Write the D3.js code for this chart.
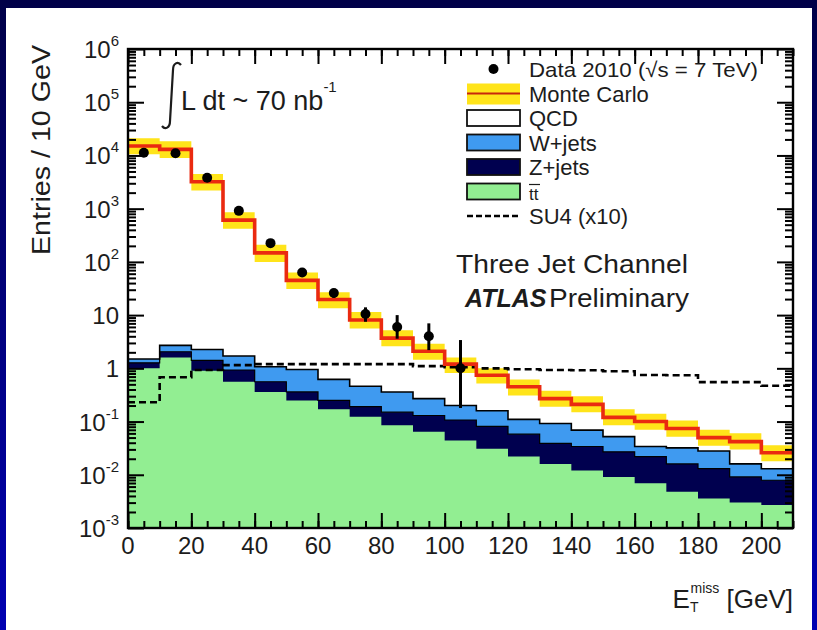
<!DOCTYPE html>
<html>
<head>
<meta charset="utf-8">
<script src="https://cdn.jsdelivr.net/npm/d3@7"></script>
<style>
html, body { margin: 0; padding: 0; }
body { width: 817px; height: 630px; overflow: hidden; background: linear-gradient(to bottom, #000048, #0000b2); }
svg { display: block; }
text { font-family: "Liberation Sans", Arial, Helvetica, sans-serif; fill: #1c1c1c; }
</style>
</head>
<body>
<script>
// bins of 10 GeV, lower edges
var binLow = [0, 10, 20, 30, 40, 50, 60, 70, 80, 90, 100, 110, 120, 130, 140, 150, 160, 170, 180, 190, 200];
var binWidth = 10;

// stacked tops (entries / 10 GeV)
var mcTotal = [15000, 13000, 3200, 610, 148, 45, 19.6, 8.1, 3.7, 2.1, 1.2, 0.74, 0.45, 0.27, 0.21, 0.12, 0.10, 0.074, 0.050, 0.042, 0.026];
var mcHigh  = [21000, 18500, 4500, 860, 210, 63, 27, 11.5, 5.2, 2.9, 1.6, 1.0, 0.62, 0.38, 0.30, 0.17, 0.14, 0.105, 0.070, 0.060, 0.036];
var mcLow   = [10500, 9000, 2200, 420, 100, 31, 13.5, 5.6, 2.6, 1.45, 0.82, 0.52, 0.31, 0.19, 0.15, 0.085, 0.07, 0.052, 0.035, 0.030, 0.018];
var wTop    = [1.5, 2.7, 2.26, 1.7, 1.07, 0.95, 0.62, 0.46, 0.36, 0.27, 0.20, 0.16, 0.11, 0.092, 0.069, 0.052, 0.034, 0.032, 0.028, 0.016, 0.013];
var zTop    = [1.27, 2.05, 1.41, 0.93, 0.56, 0.36, 0.25, 0.19, 0.15, 0.13, 0.107, 0.081, 0.058, 0.039, 0.034, 0.027, 0.022, 0.016, 0.013, 0.0091, 0.0079];
var ttTop   = [1.0, 1.6, 0.9, 0.56, 0.36, 0.25, 0.17, 0.123, 0.085, 0.064, 0.044, 0.031, 0.022, 0.016, 0.012, 0.0091, 0.0069, 0.0048, 0.0036, 0.0030, 0.0027];
var su4     = [0.23, 0.68, 0.93, 1.15, 1.2, 1.2, 1.2, 1.2, 1.2, 1.1, 1.05, 1.0, 0.96, 0.93, 0.92, 0.88, 0.75, 0.74, 0.55, 0.55, 0.47];

// data points
var dataCenter = [5, 15, 25, 35, 45, 55, 65, 75, 85, 95, 105];
var dataValue  = [11200, 11000, 3800, 910, 225, 63, 26, 10.5, 6.0, 4.0, 1.0];
var dataLow    = [10900, 10700, 3740, 880, 210, 55, 21, 7.5, 3.6, 2.2, 0.18];
var dataHigh   = [11500, 11300, 3860, 940, 240, 71, 31, 14, 10, 7.0, 3.4];

var xTicks = [0, 20, 40, 60, 80, 100, 120, 140, 160, 180, 200];
var yDecades = [-3, -2, -1, 0, 1, 2, 3, 4, 5, 6];

var legendLabels = ["Data 2010", "Monte Carlo", "QCD", "W+jets", "Z+jets", "tt", "SU4 (x10)"];

var W = 817, H = 630;
var pLeft = 128, pRight = 793, pTop = 49, pBottom = 528;

var svg = d3.select("body").append("svg").attr("width", W).attr("height", H);

// white panel inside the blue frame
svg.append("rect").attr("x", 6).attr("y", 8).attr("width", 806).attr("height", 622).attr("fill", "#ffffff");

var x = d3.scaleLinear().domain([0, 210]).range([pLeft, pRight]);
var y = d3.scaleLog().domain([1e-3, 1e6]).range([pBottom, pTop]);

function steps(vals) {
    var pts = [];
    vals.forEach(function (v, i) {
        pts.push([binLow[i], v]);
        pts.push([binLow[i] + binWidth, v]);
    });
    return pts;
}

var plot = svg.append("g");
plot.append("clipPath").attr("id", "clip").append("rect")
    .attr("x", pLeft).attr("y", pTop).attr("width", pRight - pLeft).attr("height", pBottom - pTop);
var inner = plot.append("g").attr("clip-path", "url(#clip)");

var fillArea = d3.area()
    .x(function (d) { return x(d[0]); })
    .y0(y(1e-3))
    .y1(function (d) { return y(d[1]); });
var stepLine = d3.line()
    .x(function (d) { return x(d[0]); })
    .y(function (d) { return y(d[1]); });

// yellow MC uncertainty band
var bandPts = [];
mcHigh.forEach(function (v, i) {
    bandPts.push([binLow[i], v, mcLow[i]]);
    bandPts.push([binLow[i] + binWidth, v, mcLow[i]]);
});
inner.append("path")
    .attr("d", d3.area().x(function (d) { return x(d[0]); }).y0(function (d) { return y(d[2]); }).y1(function (d) { return y(d[1]); })(bandPts))
    .attr("fill", "#ffe41a");

// stacked backgrounds
inner.append("path").attr("d", fillArea(steps(wTop))).attr("fill", "#3f9af0");
inner.append("path").attr("d", fillArea(steps(zTop))).attr("fill", "#00004f");
inner.append("path").attr("d", fillArea(steps(ttTop))).attr("fill", "#92ee92");

// outlines of the stack
inner.append("path").attr("d", stepLine(steps(wTop))).attr("fill", "none").attr("stroke", "#000").attr("stroke-width", 1.6);
inner.append("path").attr("d", stepLine(steps(zTop))).attr("fill", "none").attr("stroke", "#000").attr("stroke-width", 1.2);

// SU4 dashed
inner.append("path").attr("d", stepLine(steps(su4))).attr("fill", "none")
    .attr("stroke", "#000").attr("stroke-width", 2.6).attr("stroke-dasharray", "7,4");

// total MC red line
inner.append("path").attr("d", stepLine(steps(mcTotal))).attr("fill", "none")
    .attr("stroke", "#ea2a10").attr("stroke-width", 3.6);

// data points with error bars
inner.selectAll("line.err").data(dataCenter).enter().append("line")
    .attr("x1", function (d) { return x(d); }).attr("x2", function (d) { return x(d); })
    .attr("y1", function (d, i) { return y(dataLow[i]); })
    .attr("y2", function (d, i) { return y(dataHigh[i]); })
    .attr("stroke", "#000").attr("stroke-width", 3);
inner.selectAll("circle.pt").data(dataCenter).enter().append("circle")
    .attr("cx", function (d) { return x(d); })
    .attr("cy", function (d, i) { return y(dataValue[i]); })
    .attr("r", 5).attr("fill", "#000");

// axes: ticks drawn inward on all four sides
var xMinor = [];
for (var v = 0; v <= 210; v += 5) xMinor.push(v);
var yMinor = [];
yDecades.forEach(function (k) {
    if (k < 6) for (var m = 2; m <= 9; m++) yMinor.push(m * Math.pow(10, k));
});
var yMajor = yDecades.map(function (k) { return Math.pow(10, k); });

function tickAxis(axis, pos) {
    var g = svg.append("g").attr("transform", pos).call(axis);
    g.select(".domain").remove();
    g.selectAll("line").attr("stroke", "#000").attr("stroke-width", 2);
    g.selectAll("text").remove();
    return g;
}
tickAxis(d3.axisBottom(x).tickValues(xMinor).tickSize(-7).tickFormat(""), "translate(0," + pBottom + ")");
tickAxis(d3.axisBottom(x).tickValues(xTicks).tickSize(-15).tickFormat(""), "translate(0," + pBottom + ")");
tickAxis(d3.axisTop(x).tickValues(xMinor).tickSize(-7).tickFormat(""), "translate(0," + pTop + ")");
tickAxis(d3.axisTop(x).tickValues(xTicks).tickSize(-15).tickFormat(""), "translate(0," + pTop + ")");
tickAxis(d3.axisLeft(y).tickValues(yMinor).tickSize(-8).tickFormat(""), "translate(" + pLeft + ",0)");
tickAxis(d3.axisLeft(y).tickValues(yMajor).tickSize(-16).tickFormat(""), "translate(" + pLeft + ",0)");
tickAxis(d3.axisRight(y).tickValues(yMinor).tickSize(-8).tickFormat(""), "translate(" + pRight + ",0)");
tickAxis(d3.axisRight(y).tickValues(yMajor).tickSize(-16).tickFormat(""), "translate(" + pRight + ",0)");

// frame
svg.append("rect").attr("x", pLeft).attr("y", pTop).attr("width", pRight - pLeft).attr("height", pBottom - pTop)
    .attr("fill", "none").attr("stroke", "#000").attr("stroke-width", 2.4);

// x tick labels
svg.selectAll("text.xl").data(xTicks).enter().append("text")
    .attr("x", function (d) { return x(d); }).attr("y", 554)
    .attr("text-anchor", "middle").attr("font-size", 24)
    .text(function (d) { return d; });

// y tick labels
yDecades.forEach(function (k) {
    var t = svg.append("text").attr("x", 119).attr("y", y(Math.pow(10, k)) + 9)
        .attr("text-anchor", "end").attr("font-size", 24);
    if (k === 0) t.text("1");
    else if (k === 1) t.text("10");
    else {
        t.append("tspan").text("10");
        t.append("tspan").attr("dy", -12).attr("font-size", 15).text(k);
    }
});

// axis titles
svg.append("text").attr("transform", "translate(50,150) rotate(-90)")
    .attr("text-anchor", "middle").attr("font-size", 26)
    .attr("textLength", 210).attr("lengthAdjust", "spacingAndGlyphs").text("Entries / 10 GeV");
var xt = svg.append("text").attr("x", 793).attr("y", 608).attr("text-anchor", "end").attr("font-size", 26);
xt.append("tspan").text("E");
xt.append("tspan").attr("dy", 4).attr("font-size", 14).text("T");
xt.append("tspan").attr("dx", -8).attr("dy", -19).attr("font-size", 14).text("miss");
xt.append("tspan").attr("dy", 15).text(" [GeV]");

// luminosity label
svg.append("path").attr("d", "M181,65 C178,61 173,63 173,70 L170,121 C170,128 165,130 162,126")
    .attr("fill", "none").attr("stroke", "#1c1c1c").attr("stroke-width", 2.2);
var lum = svg.append("text").attr("x", 181).attr("y", 110).attr("font-size", 27);
lum.append("tspan").text("L dt ~ 70 nb");
lum.append("tspan").attr("dy", -18).attr("font-size", 15).text("-1");

// channel labels
svg.append("text").attr("x", 456).attr("y", 273).attr("font-size", 26)
    .attr("textLength", 232).attr("lengthAdjust", "spacingAndGlyphs").text("Three Jet Channel");
svg.append("text").attr("x", 465).attr("y", 307).attr("font-size", 25)
    .attr("font-weight", "bold").attr("font-style", "italic").text("ATLAS");
svg.append("text").attr("x", 549).attr("y", 307).attr("font-size", 26)
    .attr("textLength", 140).attr("lengthAdjust", "spacingAndGlyphs").text("Preliminary");

// legend
var lx = 467, lw = 53, tx = 529;
var rowY = [69, 93.5, 118, 142.5, 167, 191.5, 216];
var leg = svg.append("g");
leg.append("circle").attr("cx", lx + lw / 2).attr("cy", rowY[0]).attr("r", 5).attr("fill", "#000");
leg.append("rect").attr("x", lx).attr("y", rowY[1] - 10).attr("width", lw).attr("height", 21).attr("fill", "#ffe41a");
leg.append("line").attr("x1", lx).attr("x2", lx + lw).attr("y1", rowY[1]).attr("y2", rowY[1]).attr("stroke", "#c8260c").attr("stroke-width", 2);
var boxFill = [null, null, "#ffffff", "#3f9af0", "#00004f", "#92ee92"];
[2, 3, 4, 5].forEach(function (i) {
    leg.append("rect").attr("x", lx).attr("y", rowY[i] - 8).attr("width", lw).attr("height", 16)
        .attr("fill", boxFill[i]).attr("stroke", "#111").attr("stroke-width", 1.8);
});
leg.append("line").attr("x1", lx).attr("x2", lx + lw).attr("y1", rowY[6]).attr("y2", rowY[6])
    .attr("stroke", "#000").attr("stroke-width", 2.6).attr("stroke-dasharray", "6,3");

var t0 = leg.append("text").attr("x", tx).attr("y", rowY[0] + 8).attr("font-size", 21)
    .attr("textLength", 229).attr("lengthAdjust", "spacingAndGlyphs");
t0.text(legendLabels[0] + " (\u221As = 7 TeV)");
[1, 2, 3, 4, 6].forEach(function (i) {
    leg.append("text").attr("x", tx).attr("y", rowY[i] + 8).attr("font-size", 22).text(legendLabels[i]);
});
leg.append("text").attr("x", tx).attr("y", rowY[5] + 8).attr("font-size", 17).text(legendLabels[5]);
leg.append("line").attr("x1", tx).attr("x2", tx + 11).attr("y1", rowY[5] - 7).attr("y2", rowY[5] - 7)
    .attr("stroke", "#1c1c1c").attr("stroke-width", 1.2);
</script>
</body>
</html>
